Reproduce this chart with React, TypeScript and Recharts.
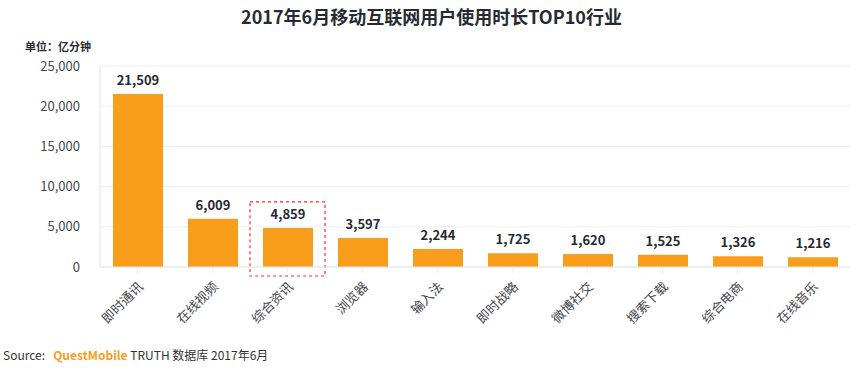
import React from "react";
import { BarChart, Bar, XAxis, YAxis, CartesianGrid, LabelList, ReferenceArea } from "recharts";

const categories = ["即时通讯", "在线视频", "综合资讯", "浏览器", "输入法", "即时战略", "微博社交", "搜索下载", "综合电商", "在线音乐"];
const minutes = [21509, 6009, 4859, 3597, 2244, 1725, 1620, 1525, 1326, 1216];
const yTicks = [0, 5000, 10000, 15000, 20000, 25000];
const highlighted = "综合资讯";

const data = categories.map((name, i) => ({ name, value: minutes[i] }));

const font = "'Noto Sans CJK SC', 'Noto Sans', sans-serif";
const fmt = (v: number) => v.toLocaleString("en-US");

const XTick = (props: any) => {
    const { x, y, payload } = props;
    return (
        <g transform={`translate(${x + 4},${y + 10})`}>
            <text transform="rotate(-45)" textAnchor="end" dominantBaseline="middle" fontSize={13} fill="#44474d" fontFamily={font}>
                {payload.value}
            </text>
        </g>
    );
};

export default function App() {
    return (
        <div style={{ position: "absolute", left: 0, top: 0, width: 863, height: 375, background: "#fff", fontFamily: font }}>
            <div style={{ position: "absolute", top: 3, width: 863, textAlign: "center", fontSize: 18, fontWeight: 700, color: "#262a33" }}>
                2017年6月移动互联网用户使用时长TOP10行业
            </div>
            <div style={{ position: "absolute", left: 25, top: 38, fontSize: 11, fontWeight: 700, color: "#262a33" }}>
                单位：亿分钟
            </div>
            <BarChart width={863} height={375} data={data} margin={{ top: 66, right: 13, bottom: 78, left: 0 }}>
                <CartesianGrid vertical={false} stroke="#eeeeee" />
                <XAxis dataKey="name" height={30} tick={<XTick />} tickLine={{ stroke: "#eeeeee" }} axisLine={{ stroke: "#e6e6e6" }} interval={0} />
                <YAxis
                    width={100}
                    domain={[0, 25000]}
                    ticks={yTicks}
                    tickFormatter={fmt}
                    tick={{ fontSize: 13, fill: "#44474d", fontFamily: font }}
                    tickLine={false}
                    axisLine={{ stroke: "#e6e6e6" }}
                    tickMargin={14}
                />
                <Bar dataKey="value" fill="#f99d1c" barSize={50} isAnimationActive={false}>
                    <LabelList dataKey="value" position="top" offset={9} formatter={(v: any) => fmt(Number(v))} style={{ fontSize: 13, fontWeight: 700, fill: "#262a33", fontFamily: font }} />
                </Bar>
                <ReferenceArea
                    x1={highlighted}
                    x2={highlighted}
                    y1={-1120}
                    y2={8100}
                    ifOverflow="visible"
                    fill="none"
                    stroke="#ff2b2b"
                    strokeOpacity={1}
                    strokeDasharray="3 3"
                    strokeWidth={1.2}
                />
            </BarChart>
            <div style={{ position: "absolute", left: 3, top: 346, fontSize: 12, color: "#333" }}>
                Source:&nbsp;&nbsp;&nbsp;<span style={{ color: "#f99d1c", fontWeight: 700 }}>QuestMobile</span> TRUTH 数据库 2017年6月
            </div>
        </div>
    );
}
